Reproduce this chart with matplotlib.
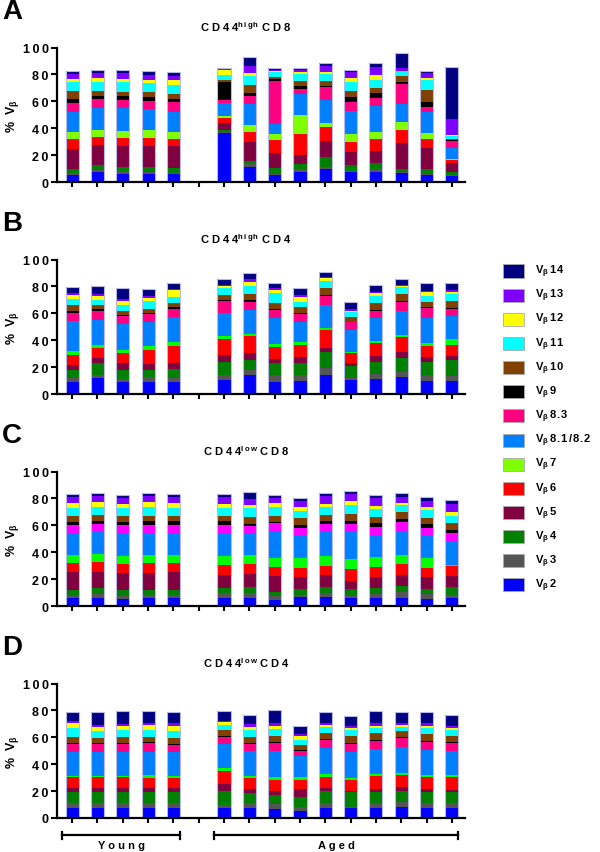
import numpy as np
import matplotlib
matplotlib.use('Agg')
import matplotlib.pyplot as plt
from matplotlib.patches import Rectangle
from matplotlib.lines import Line2D

plt.rcParams['font.family'] = ['Liberation Sans', 'DejaVu Sans']
plt.rcParams['font.weight'] = 'bold'
plt.rcParams['mathtext.fontset'] = 'custom'
plt.rcParams['mathtext.rm'] = 'Liberation Sans:bold'
plt.rcParams['mathtext.bf'] = 'Liberation Sans:bold'
plt.rcParams['mathtext.it'] = 'Liberation Sans:bold'

# V beta families, bottom of the stack first
vbeta = ['2', '3', '4', '5', '6', '7', '8.1/8.2', '8.3', '9', '10', '11', '12', '13', '14']
colors = ['#0000ff', '#555555', '#008000', '#800040', '#ff0000', '#80ff00', '#0080ff',
          '#ff0080', '#000000', '#804000', '#00ffff', '#ffff00', '#8000ff', '#000080']

young_pos = [1, 2, 3, 4, 5]
aged_pos = [7, 8, 9, 10, 11, 12, 13, 14, 15, 16]
ytick_vals = [0, 20, 40, 60, 80, 100]

# cumulative stack tops (%), Vb2 -> Vb14
tops_A = [
    [5.4, 6.7, 9.9, 24.7, 32.0, 37.0, 52.3, 58.5, 61.7, 68.0, 74.0, 76.5, 80.0, 82.7],
    [7.4, 8.6, 12.8, 27.7, 33.8, 38.8, 55.0, 61.5, 63.7, 68.0, 74.6, 77.3, 81.0, 83.2],
    [6.2, 7.9, 11.4, 26.4, 32.6, 37.8, 55.0, 61.2, 63.7, 67.2, 74.0, 76.5, 81.0, 83.5],
    [6.2, 7.4, 11.4, 26.7, 33.0, 38.3, 54.3, 60.5, 63.0, 66.7, 73.3, 75.8, 79.8, 82.2],
    [5.7, 6.9, 10.6, 26.7, 32.3, 37.5, 52.3, 59.3, 61.7, 65.2, 72.1, 75.6, 79.0, 81.5],
    [36.2, 37.4, 38.9, 43.6, 47.6, 49.3, 58.5, 61.0, 74.1, 75.6, 79.6, 83.3, 84.5, 84.9],
    [10.9, 13.9, 15.9, 29.5, 37.4, 42.4, 58.0, 64.2, 66.2, 72.4, 78.6, 81.0, 86.0, 92.7],
    [5.5, 6.0, 10.4, 21.6, 31.5, 35.7, 43.1, 75.3, 76.6, 77.8, 81.5, 82.3, 83.5, 84.5],
    [7.7, 9.7, 13.1, 20.1, 35.7, 50.1, 65.4, 69.1, 71.6, 75.3, 80.3, 81.5, 83.5, 84.8],
    [9.7, 10.9, 18.3, 30.7, 40.6, 43.6, 61.0, 70.4, 71.6, 74.8, 80.3, 82.0, 86.5, 88.2],
    [7.2, 8.4, 12.9, 22.6, 29.5, 35.7, 53.0, 59.2, 63.0, 67.4, 74.6, 77.3, 81.5, 83.5],
    [7.7, 9.7, 13.9, 22.8, 32.0, 36.9, 56.3, 62.5, 66.2, 69.9, 76.1, 79.6, 85.7, 88.2],
    [6.4, 7.2, 9.7, 29.0, 38.9, 44.4, 58.0, 72.9, 74.1, 79.1, 82.3, 82.8, 84.5, 95.7],
    [5.5, 6.0, 9.7, 25.3, 32.0, 36.4, 51.8, 56.0, 59.7, 68.6, 75.8, 77.3, 80.8, 82.3],
    [4.5, 5.0, 7.2, 14.1, 16.6, 17.0, 25.0, 30.2, 31.0, 32.0, 34.0, 35.0, 47.0, 85.3],
]

tops_B = [
    [8.6, 11.9, 18.0, 21.7, 29.1, 31.6, 54.4, 60.5, 61.6, 66.0, 71.0, 73.8, 74.9, 79.7],
    [11.9, 14.4, 22.8, 26.8, 34.0, 36.5, 55.3, 62.0, 63.3, 65.8, 70.0, 73.2, 74.0, 80.1],
    [8.7, 11.2, 18.1, 23.1, 30.5, 33.0, 51.9, 57.8, 58.8, 62.0, 66.3, 69.5, 70.7, 78.9],
    [8.9, 12.4, 18.1, 22.6, 32.5, 35.4, 53.3, 59.5, 60.0, 63.3, 68.9, 71.4, 73.2, 78.1],
    [9.1, 11.6, 18.5, 22.7, 35.8, 38.3, 57.5, 63.5, 64.4, 67.4, 72.1, 77.0, 77.8, 82.2],
    [10.7, 14.4, 23.5, 29.2, 40.9, 42.9, 60.0, 69.4, 69.9, 73.9, 78.6, 80.5, 81.3, 85.5],
    [14.4, 17.8, 25.5, 30.5, 42.9, 44.9, 62.7, 68.2, 69.9, 74.3, 80.5, 83.0, 85.5, 90.0],
    [8.7, 14.4, 23.0, 26.0, 35.2, 37.2, 56.3, 62.5, 63.2, 67.4, 74.8, 77.3, 78.6, 82.5],
    [9.9, 14.4, 23.0, 27.8, 36.7, 38.4, 53.3, 59.5, 60.2, 64.4, 68.6, 72.4, 73.6, 78.6],
    [14.4, 19.1, 31.5, 34.0, 47.8, 49.1, 66.4, 73.1, 73.9, 78.6, 83.8, 86.0, 87.2, 90.5],
    [10.7, 11.9, 21.1, 22.8, 30.5, 31.5, 47.8, 53.3, 53.8, 57.0, 60.7, 62.0, 63.2, 68.7],
    [11.2, 14.9, 24.0, 28.5, 37.7, 39.2, 56.3, 62.0, 62.7, 67.7, 73.1, 74.8, 76.1, 81.3],
    [12.9, 16.1, 26.8, 31.0, 42.1, 43.9, 61.5, 68.2, 68.9, 74.3, 79.3, 80.5, 81.3, 85.5],
    [9.9, 14.4, 24.0, 27.8, 35.9, 37.7, 56.5, 63.7, 64.4, 68.6, 72.6, 75.6, 76.3, 82.3],
    [9.9, 13.1, 25.5, 28.0, 36.7, 40.9, 58.2, 63.2, 63.9, 69.4, 74.3, 76.1, 77.6, 82.3],
]

tops_C = [
    [5.7, 8.2, 11.9, 25.0, 31.7, 37.9, 54.0, 60.2, 62.7, 67.2, 72.9, 76.3, 80.8, 83.3],
    [6.2, 8.9, 13.1, 25.0, 32.5, 38.7, 54.8, 60.7, 63.2, 67.7, 73.9, 77.1, 81.5, 83.8],
    [5.2, 7.7, 11.9, 24.3, 31.2, 37.4, 54.0, 60.2, 62.2, 66.7, 72.6, 75.8, 80.0, 82.5],
    [5.7, 8.2, 11.9, 24.5, 32.0, 37.9, 54.3, 60.5, 62.9, 67.2, 73.9, 77.1, 81.5, 83.8],
    [5.7, 8.2, 11.9, 25.0, 32.0, 37.9, 54.3, 60.5, 62.9, 67.2, 73.1, 76.8, 81.3, 83.5],
    [5.7, 9.4, 13.4, 23.0, 30.5, 37.4, 53.5, 60.5, 62.9, 67.2, 72.9, 75.8, 80.8, 83.3],
    [6.2, 9.7, 13.9, 23.8, 31.2, 38.2, 54.3, 59.7, 61.0, 66.4, 72.6, 75.1, 79.6, 85.0],
    [4.5, 7.7, 10.2, 22.0, 29.2, 35.4, 54.8, 61.5, 62.7, 66.7, 73.9, 76.3, 80.3, 82.8],
    [6.9, 8.4, 12.6, 21.3, 28.3, 35.7, 52.3, 58.0, 60.5, 65.4, 70.9, 73.4, 77.8, 80.0],
    [6.4, 9.7, 13.9, 23.3, 30.0, 37.4, 54.8, 61.0, 63.4, 67.7, 73.4, 75.8, 81.5, 84.0],
    [5.9, 8.2, 12.6, 18.8, 27.5, 34.9, 54.8, 61.0, 63.4, 68.4, 75.3, 78.3, 83.3, 85.7],
    [5.7, 8.9, 13.1, 21.3, 28.7, 36.2, 52.8, 59.0, 61.5, 65.9, 72.1, 74.6, 80.0, 82.5],
    [5.9, 10.2, 14.6, 23.3, 31.0, 37.9, 54.8, 62.2, 64.7, 69.6, 75.1, 76.3, 81.3, 83.8],
    [5.2, 8.9, 12.6, 21.3, 28.3, 35.4, 51.8, 58.0, 61.0, 65.4, 71.6, 73.9, 78.3, 80.8],
    [5.7, 8.2, 13.9, 22.6, 29.5, 30.5, 47.3, 54.3, 56.5, 61.5, 66.7, 70.1, 75.8, 78.8],
]

tops_D = [
    [7.2, 11.1, 19.1, 22.0, 30.2, 31.4, 48.8, 55.0, 55.7, 59.9, 66.8, 71.0, 72.3, 79.0],
    [7.2, 11.1, 19.1, 22.0, 30.2, 31.2, 48.8, 54.7, 55.4, 59.2, 64.9, 68.0, 69.3, 78.5],
    [7.2, 11.1, 19.1, 22.0, 30.2, 31.2, 48.8, 54.7, 55.4, 60.4, 65.3, 68.6, 69.8, 79.2],
    [7.2, 11.1, 19.1, 22.0, 29.9, 31.9, 49.3, 55.4, 56.2, 60.4, 65.3, 69.1, 70.5, 79.7],
    [7.2, 11.1, 19.1, 22.0, 29.9, 31.4, 48.8, 54.5, 55.2, 59.7, 64.9, 68.6, 70.3, 79.0],
    [7.4, 9.9, 20.3, 25.3, 35.2, 36.9, 55.0, 60.0, 60.7, 65.4, 69.1, 71.1, 72.4, 79.8],
    [7.4, 10.9, 18.6, 21.6, 29.7, 31.5, 50.1, 55.0, 56.0, 60.5, 65.4, 67.4, 69.9, 76.8],
    [6.4, 10.4, 17.3, 19.8, 28.3, 30.2, 50.1, 55.8, 56.8, 61.2, 66.2, 68.6, 70.6, 80.0],
    [5.5, 8.4, 15.4, 21.6, 28.3, 30.2, 45.8, 50.1, 50.6, 54.5, 58.2, 61.2, 62.5, 68.2],
    [7.4, 10.9, 20.3, 22.0, 30.7, 32.7, 52.0, 58.0, 58.7, 63.2, 67.4, 69.1, 70.6, 79.0],
    [7.4, 8.4, 19.1, 20.3, 28.3, 29.5, 48.8, 55.0, 55.8, 61.2, 65.4, 66.9, 68.2, 76.1],
    [7.2, 10.9, 19.6, 21.6, 31.0, 32.7, 51.3, 57.5, 58.2, 62.9, 66.7, 68.6, 70.4, 79.3],
    [7.9, 11.6, 20.3, 22.8, 32.0, 33.5, 53.0, 59.2, 60.0, 64.9, 67.9, 69.1, 70.4, 78.6],
    [7.2, 10.9, 19.1, 21.6, 30.2, 32.0, 50.8, 56.8, 57.5, 62.5, 66.7, 68.6, 70.4, 78.6],
    [7.2, 10.9, 19.6, 21.1, 30.2, 32.0, 50.1, 55.8, 56.8, 61.2, 65.4, 66.9, 68.6, 76.6],
]

panels = [
    ('A', r'C D 4 4$^{\mathbf{h\,i\,g\,h}}$ C D 8', tops_A, {}),
    ('B', r'C D 4 4$^{\mathbf{h\,i\,g\,h}}$ C D 4', tops_B, {5: '#00ff00'}),
    ('C', r'C D 4 4$^{\mathbf{l\,o\,w}}$ C D 8', tops_C, {5: '#00ff00', 7: '#ff00ff'}),
    ('D', r'C D 4 4$^{\mathbf{l\,o\,w}}$ C D 4', tops_D, {5: '#00ff00'}),
]


def spaced(s, sep='\u2009'):
    # Prism-style letter spacing
    return sep.join(s)


W, H = 600, 853
fig = plt.figure(figsize=(W / 100, H / 100), dpi=100)


def fx(px):
    return px / W


def fy(py):
    return 1 - py / H


positions = young_pos + aged_pos
ax_left, ax_right = 57, 465
for i, (letter, title, tops, override) in enumerate(panels):
    base = 183 + 212 * i
    ax = fig.add_axes([fx(ax_left), fy(base), fx(ax_right - ax_left), 134.5 / H])
    cols = list(colors)
    for k, c in override.items():
        cols[k] = c
    tops = np.array(tops)
    bottoms = np.hstack([np.zeros((len(tops), 1)), tops[:, :-1]])
    for j in range(len(vbeta)):
        ax.bar(positions, tops[:, j] - bottoms[:, j], bottom=bottoms[:, j], width=0.52,
               color=cols[j], linewidth=0)
    ax.bar(positions, tops[:, -1], width=0.52, fill=False, edgecolor='#b8b8e8', linewidth=0.8)

    ax.set_xlim(0.4, 16.52)
    ax.set_ylim(0, 100)
    ax.set_yticks(ytick_vals)
    ax.set_yticklabels([spaced(str(v)) for v in ytick_vals], fontsize=9, fontweight='bold')
    ax.set_xticks(range(1, 17))
    ax.set_xticklabels([])
    ax.tick_params(axis='y', length=4, width=1.5, pad=2)
    ax.tick_params(axis='x', length=3.5, width=1.5)
    for s in ['top', 'right']:
        ax.spines[s].set_visible(False)
    for s in ['left', 'bottom']:
        ax.spines[s].set_linewidth(1.6)
    ax.set_ylabel(r'%  V$_{\beta}$', fontsize=9, fontweight='bold')
    ax.yaxis.set_label_coords((21 - ax_left) / (ax_right - ax_left), 0.5)

    fig.text(fx(2), fy(12 + 212 * i), letter, fontsize=20, fontweight='bold', ha='left', va='center')
    fig.text(fx(246), fy(27 + 212 * i), title, fontsize=8, fontweight='bold', ha='center', va='center')

# Young / Aged brackets under panel D
for x0, x1, label in [(62, 180, 'Young'), (214, 458, 'Aged')]:
    yb = fy(836)
    fig.add_artist(Line2D([fx(x0), fx(x1)], [yb, yb], color='black', lw=1.6))
    for xe in (x0, x1):
        fig.add_artist(Line2D([fx(xe), fx(xe)], [yb - 3.5 / H, yb + 3.5 / H], color='black', lw=1.6))
    fig.text(fx((x0 + x1) / 2), fy(846), spaced(label, ' '), fontsize=8,
             fontweight='bold', ha='center', va='center')

# legend, Vb14 at the top
for k in range(len(vbeta)):
    idx = len(vbeta) - 1 - k
    yc = 272 + k * 24.15
    fig.add_artist(Rectangle((fx(503), fy(yc + 6.5)), fx(21), 13 / H, facecolor=colors[idx],
                             edgecolor='#aaaaaa', linewidth=0.6))
    fig.text(fx(535), fy(yc), r'V$_{\beta}$' + '\u2009' + spaced(vbeta[idx], '\u200a'),
             fontsize=8, fontweight='bold', ha='left', va='center')

fig.savefig('out.png', dpi=100)
